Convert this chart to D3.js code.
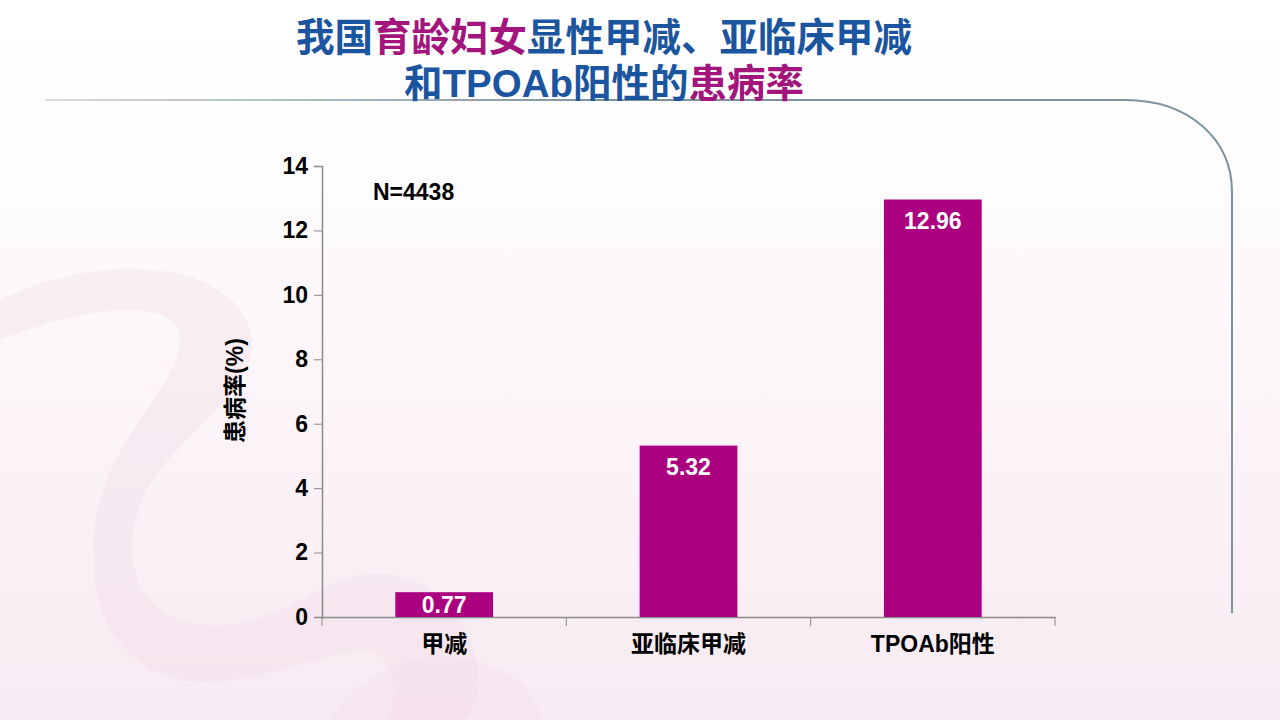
<html>

<head>
  <meta charset="utf-8">
  <title>患病率</title>
  <style>
    body { margin: 0; overflow: hidden; }
    text { font-family: "Liberation Sans", Arial, "Noto Sans CJK SC", sans-serif; font-weight: bold; }
  </style>
</head>

<body>
  <script src="https://d3js.org/d3.v7.min.js"></script>
  <script>
    var categories = ["甲减", "亚临床甲减", "TPOAb阳性"];
    var values = [0.77, 5.32, 12.96];
    var yTicks = [0, 2, 4, 6, 8, 10, 12, 14];
    var sampleLabel = "N=4438";
    var yLabel = "患病率(%)";

    var W = 1280, H = 720;
    var margin = { top: 166, right: 225, bottom: 103, left: 322 };
    var width = W - margin.left - margin.right;
    var height = H - margin.top - margin.bottom;

    var svg = d3.select("body")
      .append("svg")
      .attr("width", W)
      .attr("height", H);

    var defs = svg.append("defs");
    var bg = defs.append("linearGradient").attr("id", "bg")
      .attr("x1", 0).attr("y1", 0).attr("x2", 0).attr("y2", 1);
    bg.append("stop").attr("offset", "0%").attr("stop-color", "#ffffff");
    bg.append("stop").attr("offset", "25%").attr("stop-color", "#fefcfd");
    bg.append("stop").attr("offset", "100%").attr("stop-color", "#f8eaf2");

    var lineGrad = defs.append("linearGradient").attr("id", "lineGrad")
      .attr("gradientUnits", "userSpaceOnUse")
      .attr("x1", 40).attr("y1", 0).attr("x2", 600).attr("y2", 0);
    lineGrad.append("stop").attr("offset", "0%").attr("stop-color", "#7d939c").attr("stop-opacity", 0.3);
    lineGrad.append("stop").attr("offset", "100%").attr("stop-color", "#7d939c").attr("stop-opacity", 1);

    svg.append("rect").attr("width", W).attr("height", H).attr("fill", "url(#bg)");

    // faint ribbon decoration in the background
    var ribbons = svg.append("g").attr("fill", "#eed6e5");
    ribbons.append("path")
      .attr("d", "M0,300 C100,250 230,260 250,330 C265,380 200,420 160,470 C120,520 120,600 180,620 C240,640 300,600 340,580 C400,560 450,590 470,640 C490,690 470,720 460,720 L390,720 C400,680 390,650 360,650 C300,660 240,690 180,680 C100,660 80,580 100,500 C120,430 180,380 180,340 C180,300 100,300 0,340 Z")
      .attr("opacity", 0.3);
    ribbons.append("path")
      .attr("d", "M330,720 C360,670 420,650 470,660 C520,670 540,700 540,720 Z")
      .attr("opacity", 0.2);

    // decorative frame line
    svg.append("path")
      .attr("d", "M45,100 L1125,100 C1190,100 1232,140 1232,192 L1232,613")
      .attr("fill", "none")
      .attr("stroke", "url(#lineGrad)")
      .attr("stroke-width", 2);

    // title
    var title = svg.append("g").attr("text-anchor", "middle").style("font-size", "38.5px");
    var t1 = title.append("text").attr("x", 604).attr("y", 51);
    t1.append("tspan").attr("fill", "#1b55a0").text("我国");
    t1.append("tspan").attr("fill", "#a3157c").text("育龄妇女");
    t1.append("tspan").attr("fill", "#1b55a0").text("显性甲减、亚临床甲减");
    var t2 = title.append("text").attr("x", 604).attr("y", 97);
    t2.append("tspan").attr("fill", "#1b55a0").text("和TPOAb阳性的");
    t2.append("tspan").attr("fill", "#a3157c").text("患病率");

    var g = svg.append("g")
      .attr("transform", "translate(" + margin.left + "," + margin.top + ")");

    var x = d3.scaleBand()
      .domain(categories)
      .range([0, width])
      .padding(0);

    var y = d3.scaleLinear()
      .domain([0, 14])
      .range([height, 0]);

    var barW = x.bandwidth() * 0.4;

    var yAxis = d3.axisLeft(y).tickValues(yTicks).tickSize(8).tickPadding(6);
    var yg = g.append("g").attr("class", "y axis").call(yAxis);
    yg.select(".domain").attr("stroke", "#8a8a8a").attr("stroke-width", 1.5);
    yg.selectAll(".tick line").attr("stroke", "#8a8a8a");
    yg.selectAll(".tick text").attr("fill", "#000").style("font-size", "23px");

    var xAxis = d3.axisBottom(x).tickSize(0).tickPadding(19);
    var xg = g.append("g").attr("class", "x axis")
      .attr("transform", "translate(0," + height + ")")
      .call(xAxis);
    xg.select(".domain").attr("stroke", "#8a8a8a").attr("stroke-width", 1.5);
    xg.selectAll(".tick text").attr("fill", "#000").style("font-size", "23px");

    // category boundary ticks
    g.selectAll(".sep")
      .data(categories.concat(["end"]))
      .enter()
      .append("line")
      .attr("class", "sep")
      .attr("x1", function (d, i) { return i < categories.length ? x(d) : width; })
      .attr("x2", function (d, i) { return i < categories.length ? x(d) : width; })
      .attr("y1", height)
      .attr("y2", height + 9)
      .attr("stroke", "#8a8a8a");

    g.selectAll(".bar")
      .data(values)
      .enter()
      .append("rect")
      .attr("class", "bar")
      .attr("x", function (d, i) { return x(categories[i]) + (x.bandwidth() - barW) / 2; })
      .attr("y", function (d) { return y(d); })
      .attr("width", barW)
      .attr("height", function (d) { return height - y(d); })
      .attr("fill", "#ab0080");

    g.selectAll(".val")
      .data(values)
      .enter()
      .append("text")
      .attr("class", "val")
      .attr("x", function (d, i) { return x(categories[i]) + x.bandwidth() / 2; })
      .attr("y", function (d) { return Math.min(y(d) + 29, (y(d) + height) / 2 + 8); })
      .attr("text-anchor", "middle")
      .attr("fill", "#fff")
      .style("font-size", "23px")
      .text(function (d) { return d.toFixed(2); });

    g.append("text")
      .attr("x", 51)
      .attr("y", 34)
      .attr("fill", "#000")
      .style("font-size", "23px")
      .text(sampleLabel);

    g.append("text")
      .attr("transform", "rotate(-90)")
      .attr("x", -height / 2 + 1)
      .attr("y", -79)
      .attr("text-anchor", "middle")
      .attr("fill", "#000")
      .style("font-size", "23px")
      .text(yLabel);
  </script>
</body>

</html>
